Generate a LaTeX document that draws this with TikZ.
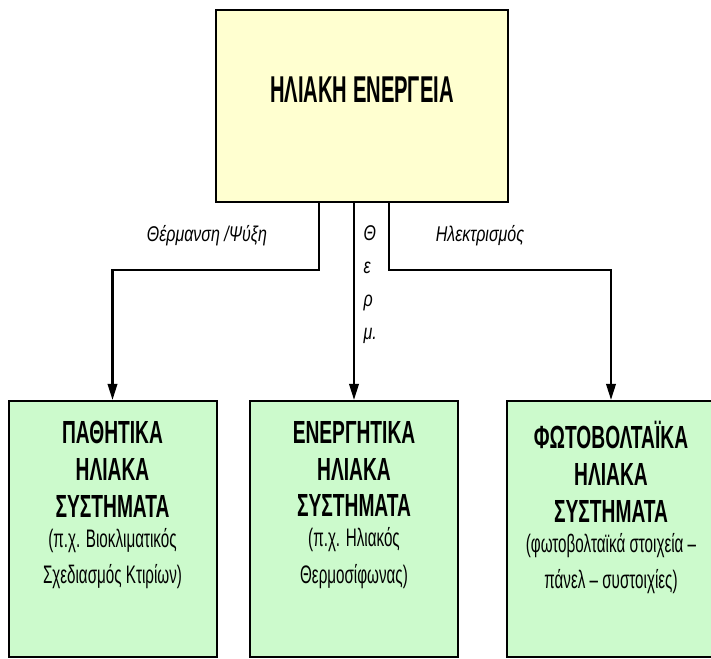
\documentclass[tikz,border=0pt]{standalone}
\usepackage{fontspec}
\setmainfont{Liberation Sans}
\newfontfamily\capsfont{Liberation Sans}[FakeStretch=0.6]
\newfontfamily\titlefont{Liberation Sans}[FakeStretch=0.54]
\newfontfamily\notefont{Liberation Sans}[FakeStretch=0.6]
\newfontfamily\linkfont{Liberation Sans}[FakeStretch=0.75]
\usetikzlibrary{arrows.meta,positioning}

\definecolor{sunfill}{RGB}{255,255,208}
\definecolor{sysfill}{RGB}{204,250,204}
\newcommand\subline{\notefont\mdseries\fontsize{19}{27}\selectfont}

\tikzset{every picture/.style={line width=0.75pt}}
\tikzset{
  sunbox/.style={draw=black, line width=1.5pt, fill=sunfill, minimum width=219pt, minimum height=144pt, inner sep=0pt},
  sysbox/.style={draw=black, line width=1.5pt, fill=sysfill, minimum width=156pt, minimum height=192pt, inner sep=0pt},
  boxtext/.style={inner sep=0pt, align=center, font=\capsfont\bfseries\fontsize{24}{27.5}\selectfont},
  linktext/.style={inner sep=0pt, font=\linkfont\itshape\fontsize{16}{24.75}\selectfont},
  feed/.style={line width=1.8pt, -{Triangle[length=12pt,width=7pt]}},
}

\begin{document}
\begin{tikzpicture}[x=0.75pt,y=0.75pt,yscale=-1,xscale=1]
\useasboundingbox (0,0) rectangle (711,659);
\clip (0,0) rectangle (711,659);

%Boxes
\node [sunbox] (sun) at (362,106) {};
\node [sysbox] (pas) at (112.5,529) {};
\node [sysbox] (act) at (354,529) {};
\node [sysbox] (pv) at (611,529) {};

%Connectors
\draw [feed] ([xshift=-32.25pt]sun.south) -- ++(0,67) -| (pas.north);
\draw [feed] (act.north |- sun.south) -- (act.north);
\draw [feed] ([xshift=20.25pt]sun.south) -- ++(0,67) -| (pv.north);

% Text Node
\node [boxtext, font=\titlefont\bfseries\fontsize{28}{30}\selectfont] (sunT) at (362,90) {ΗΛΙΑΚΗ ΕΝΕΡΓΕΙΑ};
% Text Node
\node [boxtext, anchor=north] (pasT) at (112.5,421) {ΠΑΘΗΤΙΚΑ\\ΗΛΙΑΚΑ\\ΣΥΣΤΗΜΑΤΑ\\[-5pt]\subline (π.χ. Βιοκλιματικός\\\subline Σχεδιασμός Κτιρίων)};
% Text Node
\node [boxtext, anchor=north] (actT) at (354,421) {ΕΝΕΡΓΗΤΙΚΑ\\ΗΛΙΑΚΑ\\ΣΥΣΤΗΜΑΤΑ\\[-5pt]\subline (π.χ. Ηλιακός\\\subline Θερμοσίφωνας)};
% Text Node
\node [boxtext, anchor=north] (pvT) at (611,421) {ΦΩΤΟΒΟΛΤΑΪΚΑ\\ΗΛΙΑΚΑ\\ΣΥΣΤΗΜΑΤΑ\\[-5pt]\subline (φωτοβολταϊκά στοιχεία –\\\subline πάνελ – συστοιχίες)};

% Text Node
\node [linktext] (heatL) at (207,236) {Θέρμανση /Ψύξη};
% Text Node
\node [linktext, align=left, anchor=north west] (thermL) at (363,225) {Θ\\ε\\ρ\\μ.};
% Text Node
\node [linktext] (elecL) at (480,236) {Ηλεκτρισμός};
\end{tikzpicture}
\end{document}
